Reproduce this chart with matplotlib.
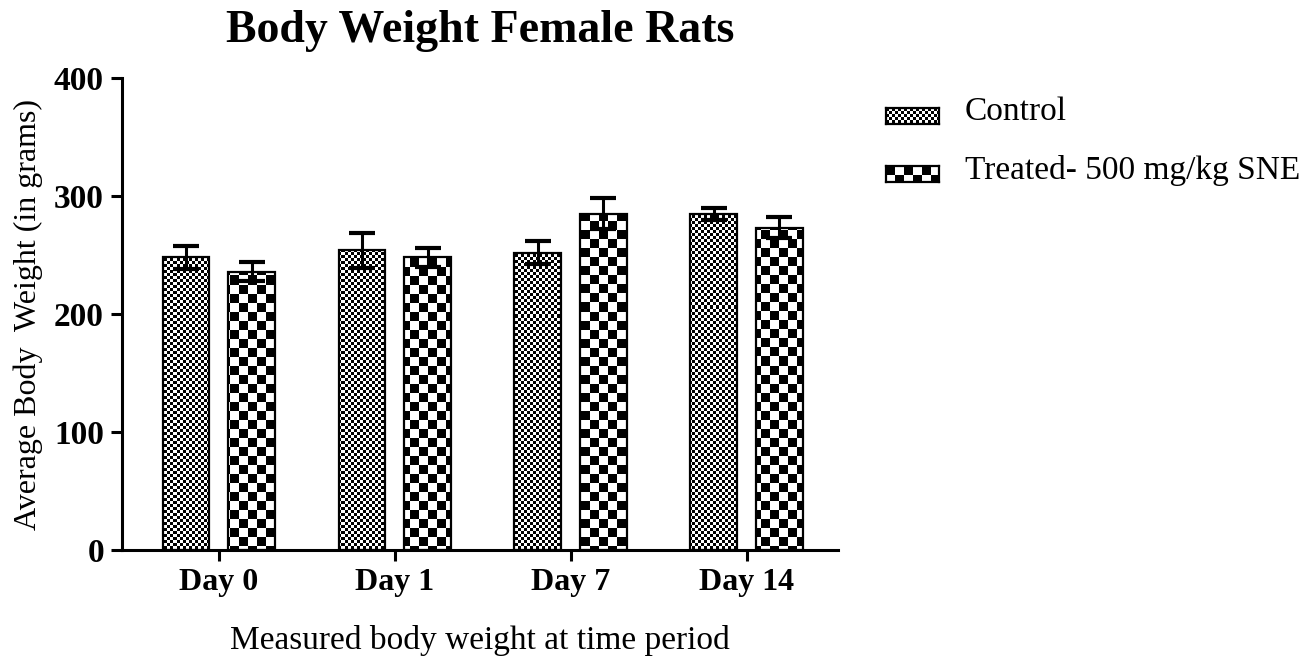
import numpy as np
import matplotlib
matplotlib.use("Agg")
import matplotlib.pyplot as plt

# Body weight data (grams), mean and SEM per time point
days = ["Day 0", "Day 1", "Day 7", "Day 14"]
control_mean = [248, 254, 252, 285]
control_err = [10, 15, 10, 5]
treated_mean = [236, 248, 285, 273]
treated_err = [8, 8, 13, 9]
series_names = ["Control", "Treated- 500 mg/kg SNE"]

plt.rcParams["font.family"] = ["Liberation Serif", "DejaVu Serif"]

W, H, DPI = 1312, 661, 100
fig = plt.figure(figsize=(W / DPI, H / DPI), dpi=DPI)
ax = fig.add_axes([122 / W, 1 - 550 / H, (838 - 122) / W, 472 / H])


def checker(h, w, cell):
    yy, xx = np.mgrid[0:h, 0:w]
    return ((yy // cell + xx // cell) % 2).astype(float)


x = np.arange(len(days))
bw = 0.264
off = 0.187

ax.set_xlim(-0.55, 3.52)
ax.set_ylim(0, 400)

bars_c = ax.bar(x - off, control_mean, bw, facecolor="none", edgecolor="black",
                linewidth=1.6, zorder=3)
bars_t = ax.bar(x + off, treated_mean, bw, facecolor="none", edgecolor="black",
                linewidth=1.6, zorder=3)

# fill each bar with a checkerboard image clipped to the bar outline
ax_w, ax_h = 838 - 122, 472
fine = checker(ax_h, ax_w, 3)[::-1]
coarse = checker(ax_h, ax_w, 9)[::-1]
for bars, pat in ((bars_c, fine), (bars_t, coarse)):
    for b in bars:
        im = ax.imshow(pat, cmap="gray", vmin=0, vmax=1, extent=(0, 1, 0, 1),
                       transform=ax.transAxes, aspect="auto",
                       interpolation="nearest", zorder=2, origin="lower")
        im.set_clip_path(b)

ax.set_xlim(-0.55, 3.52)
ax.set_ylim(0, 400)

for xs, m, e in ((x - off, control_mean, control_err), (x + off, treated_mean, treated_err)):
    ax.errorbar(xs, m, yerr=e, fmt="none", ecolor="black", elinewidth=2.2,
                capsize=9.5, capthick=3, zorder=4)

for s in ("top", "right"):
    ax.spines[s].set_visible(False)
for s in ("left", "bottom"):
    ax.spines[s].set_linewidth(2.2)

ax.set_yticks([0, 100, 200, 300, 400])
ax.set_xticks(x)
ax.set_xticklabels(days)
ax.tick_params(axis="both", length=8, width=2.2, labelsize=24, pad=5)
ax.tick_params(axis="x", labelsize=23)
for lbl in ax.get_xticklabels() + ax.get_yticklabels():
    lbl.set_fontweight("bold")

ax.set_title("Body Weight Female Rats", fontsize=33, fontweight="bold", pad=26)
ax.set_xlabel("Measured body weight at time period", fontsize=24, labelpad=20)
ax.set_ylabel("Average Body  Weight (in grams)", fontsize=23, labelpad=8)

# legend swatches
for i, (name, cell) in enumerate(zip(series_names, (3, 9))):
    yc = 116 + 58 * i
    sw = fig.add_axes([886 / W, 1 - (yc + 8) / H, 53 / W, 16 / H])
    sw.imshow(checker(16, 53, cell), cmap="gray", vmin=0, vmax=1,
              aspect="auto", interpolation="nearest")
    sw.set_xticks([])
    sw.set_yticks([])
    for sp in sw.spines.values():
        sp.set_linewidth(1.6)
    fig.text(965 / W, 1 - (yc - 4) / H, name, fontsize=24, va="center", ha="left")

fig.savefig("out.png", dpi=DPI, facecolor="white")
